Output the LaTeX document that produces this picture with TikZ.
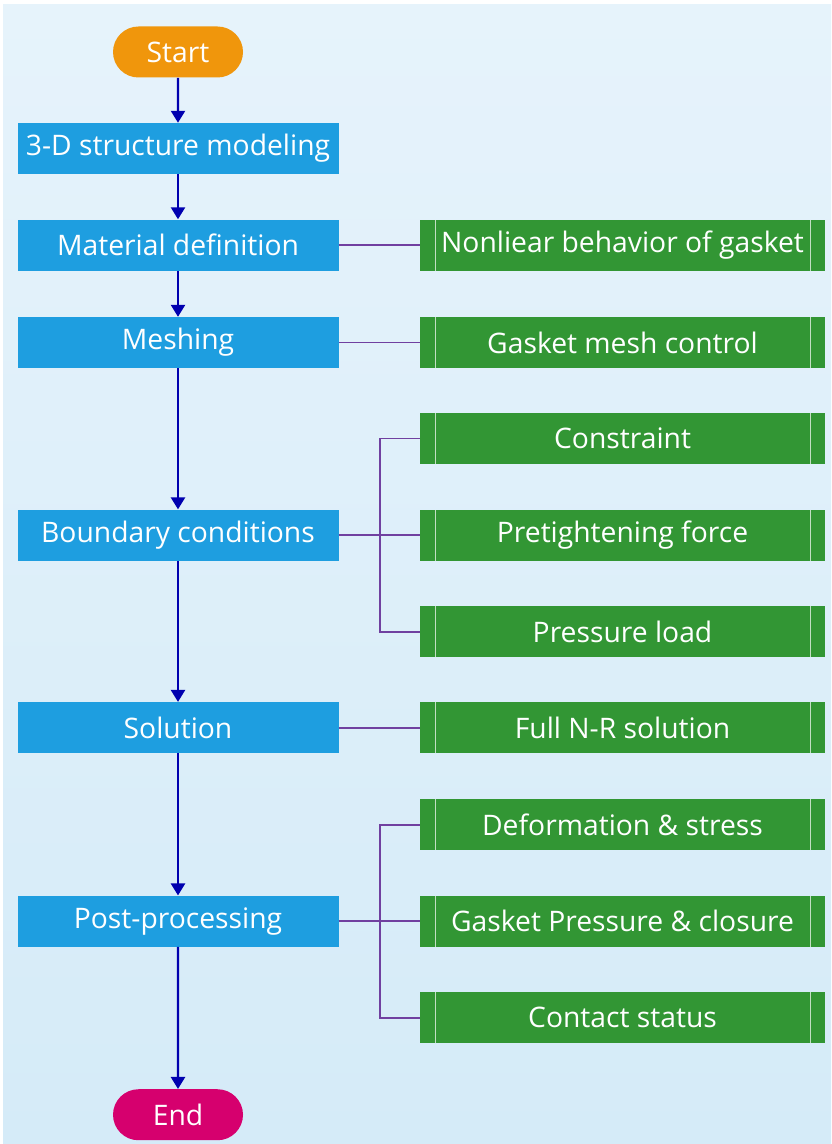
\documentclass[tikz,border=0pt]{standalone}
\usepackage{fontspec}
\setmainfont{Open Sans}
\usetikzlibrary{shapes.misc, arrows.meta, positioning}

\definecolor{stepblue}{RGB}{30,158,224}
\definecolor{subgreen}{RGB}{50,150,52}
\definecolor{startorange}{RGB}{240,150,12}
\definecolor{endpink}{RGB}{214,0,110}
\definecolor{flowblue}{RGB}{0,0,175}
\definecolor{linkpurple}{RGB}{112,64,160}
\definecolor{bgtop}{RGB}{230,243,251}
\definecolor{bgbottom}{RGB}{213,235,248}

\tikzset{
  mainbox/.style={rectangle, minimum width=240.75pt, minimum height=38.25pt, text centered, fill=stepblue, text=white, inner sep=0pt},
  subbox/.style={rectangle, minimum width=303.75pt, minimum height=38.25pt, text centered, fill=subgreen, text=white, inner sep=0pt,
    path picture={
      \draw[white!70!subgreen, line width=0.7pt] ([xshift=11.25pt]path picture bounding box.south west) -- ([xshift=11.25pt]path picture bounding box.north west);
      \draw[white!70!subgreen, line width=0.7pt] ([xshift=-11.25pt]path picture bounding box.south east) -- ([xshift=-11.25pt]path picture bounding box.north east);
    }},
  terminal/.style={rounded rectangle, minimum width=97.5pt, minimum height=38.25pt, text centered, text=white, inner sep=0pt},
  flow/.style={line width=1.8pt, flowblue, -{Triangle[length=9pt, width=10.5pt]}},
  link/.style={line width=1.3pt, linkpurple}
}

\begin{document}
\begin{tikzpicture}[x=0.75pt, y=-0.75pt, node distance=33.75pt and 60.75pt, every node/.style={font=\fontsize{21.2}{25}\selectfont}]
  % background
  \useasboundingbox (0,0) rectangle (831,1144);
  \shade[top color=bgtop, bottom color=bgbottom] (3,5) rectangle (831,1144);

  % main steps
  \node (start) [terminal, fill=startorange] at (178,52) {Start};
  \node (model) [mainbox, below=of start] {3-D structure modeling};
  \node (mat) [mainbox, below=of model] {Material definition};
  \node (mesh) [mainbox, below=34.5pt of mat] {Meshing};
  \node (bc) [mainbox, below=105.75pt of mesh] {Boundary conditions};
  \node (sol) [mainbox, below=105.75pt of bc] {Solution};
  \node (post) [mainbox, below=106.5pt of sol] {Post-processing};
  \node (end) [terminal, fill=endpink, below=106.5pt of post] {End};

  % details
  \node (nonlin) [subbox, right=of mat] {Nonliear behavior of gasket};
  \node (meshctl) [subbox, right=of mesh] {Gasket mesh control};
  \node (pretight) [subbox, right=of bc] {Pretightening force};
  \node (constr) [subbox, above=of pretight] {Constraint};
  \node (pressure) [subbox, below=of pretight] {Pressure load};
  \node (nr) [subbox, right=of sol] {Full N-R solution};
  \node (gpc) [subbox, right=of post] {Gasket Pressure \& closure};
  \node (deform) [subbox, above=of gpc] {Deformation \& stress};
  \node (contact) [subbox, below=of gpc] {Contact status};

  % Arrows
  \draw [flow] (start) -- (model);
  \draw [flow] (model) -- (mat);
  \draw [flow] (mat) -- (mesh);
  \draw [flow] (mesh) -- (bc);
  \draw [flow] (bc) -- (sol);
  \draw [flow] (sol) -- (post);
  \draw [flow] (post) -- (end);

  % Links
  \coordinate (bcjoint) at ([xshift=30.75pt]bc.east);
  \coordinate (postjoint) at ([xshift=30.75pt]post.east);
  \draw [link] (mat) -- (nonlin);
  \draw [link] (mesh) -- (meshctl);
  \draw [link] (bc) -- (pretight);
  \draw [link] (constr.west) -| (bcjoint) |- (pressure.west);
  \draw [link] (sol) -- (nr);
  \draw [link] (post) -- (gpc);
  \draw [link] (deform.west) -| (postjoint) |- (contact.west);
\end{tikzpicture}
\end{document}
